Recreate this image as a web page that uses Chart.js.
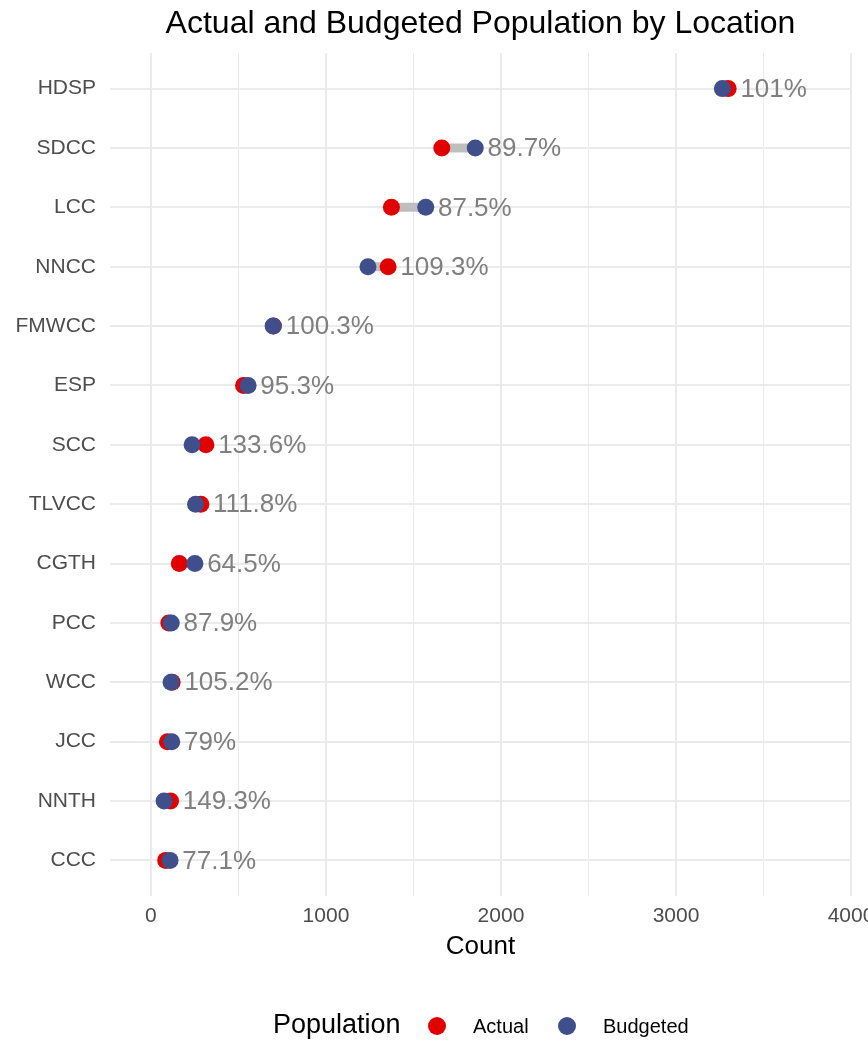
<!DOCTYPE html>
<html>
<head>
<meta charset="utf-8">
<title>Actual and Budgeted Population by Location</title>
<script src="https://cdn.jsdelivr.net/npm/chart.js@4"></script>
<style>
    body { margin: 0; background: #ffffff; }
    canvas { display: block; }
</style>
</head>
<body>
<canvas id="miGrafica" width="868" height="1042"></canvas>
<script>
// locations, top to bottom
const ubicaciones = ["HDSP", "SDCC", "LCC", "NNCC", "FMWCC", "ESP", "SCC", "TLVCC", "CGTH", "PCC", "WCC", "JCC", "NNTH", "CCC"];
const actual = [3298, 1662, 1374, 1355, 700, 529, 314, 285, 162, 102, 121, 94, 112, 84];
const presupuesto = [3265, 1853, 1570, 1240, 698, 555, 235, 255, 251, 116, 115, 119, 75, 109];
const ticksX = [0, 500, 1000, 1500, 2000, 2500, 3000, 3500, 4000];

const ROJO = "#e00000";
const AZUL = "#3e4f8b";
const FUENTE = "'Liberation Sans', Arial, sans-serif";

// actual / budgeted as a percentage, one decimal (101.0 -> "101")
const porcentajes = actual.map((a, i) => +(a / presupuesto[i] * 100).toFixed(1) + "%");

const segmentos = [];
ubicaciones.forEach((u, i) => {
    segmentos.push({ x: actual[i], y: i }, { x: presupuesto[i], y: i }, { x: null, y: null });
});

// title, percentage labels and legend
const extras = {
    id: "extras",
    afterDatasetsDraw(chart) {
        const { ctx, scales } = chart;
        ctx.save();
        ctx.fillStyle = "#7f7f7f";
        ctx.font = "26px " + FUENTE;
        ctx.textAlign = "left";
        ctx.textBaseline = "middle";
        ubicaciones.forEach((u, i) => {
            const x = scales.x.getPixelForValue(Math.max(actual[i], presupuesto[i]) + 70);
            const y = scales.y.getPixelForValue(i);
            ctx.fillText(porcentajes[i], x, y + 1);
        });
        ctx.restore();
    },
    afterDraw(chart) {
        const { ctx, chartArea } = chart;
        ctx.save();
        ctx.fillStyle = "#000000";
        ctx.font = "32px " + FUENTE;
        ctx.textAlign = "center";
        ctx.textBaseline = "alphabetic";
        ctx.fillText("Actual and Budgeted Population by Location", (chartArea.left + chartArea.right) / 2, 33);

        // legend
        const yL = 1026;
        ctx.textAlign = "left";
        ctx.textBaseline = "middle";
        ctx.font = "27px " + FUENTE;
        ctx.fillText("Population", 273, yL);
        ctx.font = "20px " + FUENTE;
        [[ROJO, "Actual", 437], [AZUL, "Budgeted", 567]].forEach(([c, t, x]) => {
            ctx.fillStyle = c;
            ctx.beginPath();
            ctx.arc(x, yL, 9, 0, Math.PI * 2);
            ctx.fill();
            ctx.fillStyle = "#000000";
            ctx.fillText(t, x + 36, yL + 1);
        });
        ctx.restore();
    }
};

const ctx = document.getElementById("miGrafica").getContext("2d");
new Chart(ctx, {
    type: "scatter",
    data: {
        datasets: [
            {
                type: "line",
                label: "segmento",
                data: segmentos,
                borderColor: "#bebebe",
                borderWidth: 9,
                borderCapStyle: "butt",
                pointRadius: 0,
                spanGaps: false,
                fill: false,
                order: 3
            },
            {
                label: "Actual",
                data: actual.map((v, i) => ({ x: v, y: i })),
                backgroundColor: ROJO,
                borderWidth: 0,
                pointRadius: 8.5,
                pointHoverRadius: 8.5,
                order: 2
            },
            {
                label: "Budgeted",
                data: presupuesto.map((v, i) => ({ x: v, y: i })),
                backgroundColor: AZUL,
                borderWidth: 0,
                pointRadius: 8.5,
                pointHoverRadius: 8.5,
                order: 1
            }
        ]
    },
    options: {
        responsive: false,
        animation: false,
        layout: { padding: { left: 0, right: 17, top: 53, bottom: 80 } },
        plugins: {
            legend: { display: false },
            tooltip: { enabled: false }
        },
        scales: {
            x: {
                type: "linear",
                min: -234,
                max: 4000,
                afterBuildTicks: (s) => { s.ticks = ticksX.map(v => ({ value: v })); },
                afterFit: (s) => { s.height = 66; s.paddingLeft = 0; s.paddingRight = 0; },
                border: { display: false },
                grid: {
                    color: "#ebebeb",
                    lineWidth: (c) => (c.tick && c.tick.value % 1000 === 0 ? 2 : 1),
                    drawTicks: false
                },
                ticks: {
                    autoSkip: false,
                    maxRotation: 0,
                    padding: 8,
                    color: "#4d4d4d",
                    font: { family: FUENTE, size: 21 },
                    callback: (v) => (v % 1000 === 0 ? String(v) : "")
                },
                title: {
                    display: true,
                    text: "Count",
                    color: "#000000",
                    padding: { top: 0, bottom: 0 },
                    font: { family: FUENTE, size: 26 }
                }
            },
            y: {
                type: "linear",
                reverse: true,
                min: -0.6,
                max: 13.6,
                afterBuildTicks: (s) => { s.ticks = ubicaciones.map((u, i) => ({ value: i })); },
                afterFit: (s) => { s.width = 110; s.paddingTop = 0; s.paddingBottom = 0; },
                border: { display: false },
                grid: { color: "#ebebeb", lineWidth: 2, drawTicks: false },
                ticks: {
                    autoSkip: false,
                    padding: 14,
                    color: "#4d4d4d",
                    font: { family: FUENTE, size: 21 },
                    callback: (v) => ubicaciones[v] ?? ""
                }
            }
        }
    },
    plugins: [extras]
});
</script>
</body>
</html>
